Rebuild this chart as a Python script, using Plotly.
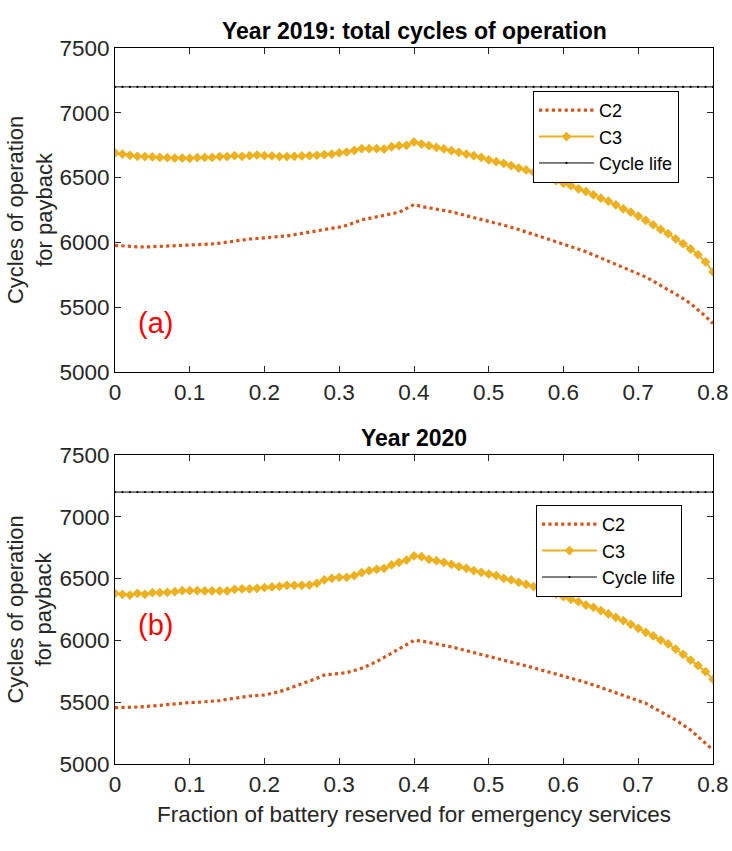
import plotly.graph_objects as go

frac = [round(i * 0.01, 2) for i in range(81)]

c3_2019 = [6690, 6682, 6672, 6664, 6662, 6659, 6656, 6654, 6651, 6651,
           6649, 6654, 6656, 6656, 6662, 6662, 6669, 6664, 6669, 6674,
           6669, 6667, 6662, 6662, 6664, 6667, 6669, 6672, 6677, 6682,
           6690, 6697, 6710, 6723, 6723, 6723, 6720, 6738, 6746, 6749,
           6774, 6759, 6746, 6733, 6721, 6708, 6695, 6682, 6669, 6656,
           6636, 6623, 6610, 6592, 6574, 6559, 6541, 6521, 6497, 6477,
           6456, 6438, 6413, 6392, 6367, 6341, 6318, 6290, 6259, 6233,
           6203, 6169, 6136, 6100, 6067, 6028, 5990, 5949, 5905, 5849,
           5772]

c2_2019 = [5977, 5972, 5968, 5966, 5964, 5966, 5968, 5970, 5972, 5974,
           5976, 5978, 5982, 5988, 5994, 6003, 6012, 6021, 6026, 6030,
           6034, 6037, 6041, 6050, 6060, 6069, 6079, 6088, 6098, 6108,
           6118, 6131, 6152, 6174, 6185, 6196, 6208, 6220, 6233, 6262,
           6292, 6277, 6268, 6260, 6251, 6236, 6221, 6205, 6190, 6176,
           6162, 6147, 6133, 6118, 6099, 6080, 6060, 6041, 6023, 6005,
           5987, 5969, 5951, 5928, 5904, 5880, 5856, 5832, 5807, 5783,
           5758, 5733, 5701, 5669, 5637, 5605, 5567, 5528, 5480, 5430,
           5374]

c3_2020 = [6381, 6373, 6367, 6381, 6373, 6386, 6386, 6389, 6394, 6402,
           6402, 6402, 6400, 6400, 6400, 6400, 6413, 6416, 6416, 6421,
           6427, 6432, 6437, 6446, 6446, 6446, 6448, 6462, 6489, 6502,
           6510, 6510, 6524, 6548, 6564, 6575, 6583, 6610, 6632, 6650,
           6683, 6677, 6656, 6645, 6632, 6615, 6597, 6583, 6564, 6551,
           6537, 6524, 6502, 6489, 6470, 6454, 6435, 6416, 6394, 6375,
           6354, 6332, 6313, 6286, 6268, 6241, 6214, 6187, 6160, 6130,
           6098, 6065, 6036, 6003, 5971, 5930, 5887, 5841, 5796, 5747,
           5685]

c2_2020 = [5456, 5456, 5458, 5461, 5464, 5470, 5477, 5484, 5491, 5494,
           5497, 5499, 5502, 5504, 5513, 5523, 5534, 5545, 5550, 5554,
           5558, 5572, 5585, 5605, 5626, 5646, 5666, 5693, 5720, 5726,
           5733, 5739, 5757, 5774, 5801, 5828, 5862, 5895, 5930, 5965,
           6000, 5995, 5984, 5974, 5963, 5948, 5932, 5917, 5901, 5886,
           5872, 5857, 5843, 5828, 5811, 5795, 5778, 5761, 5745, 5729,
           5713, 5696, 5680, 5660, 5640, 5619, 5599, 5577, 5556, 5534,
           5513, 5491, 5457, 5424, 5390, 5356, 5316, 5275, 5221, 5167,
           5113]

cycle_life = [7200] * 81

series_names = ["C2", "C3", "Cycle life"]
titles = ["<b>Year 2019: total cycles of operation</b>", "<b>Year 2020</b>"]
panel_labels = ["(a)", "(b)"]
x_ticks = [0, 0.1, 0.2, 0.3, 0.4, 0.5, 0.6, 0.7, 0.8]
y_ticks = [5000, 5500, 6000, 6500, 7000, 7500]

C2_COLOR = "#D95319"
C3_COLOR = "#EDB120"
FONT = "Liberation Sans, Arial, sans-serif"
TXT = "#262626"

fig = go.Figure()

panels = [(c2_2019, c3_2019, "x", "y", "legend"),
          (c2_2020, c3_2020, "x2", "y2", "legend2")]
for c2, c3, xa, ya, lg in panels:
    fig.add_trace(go.Scatter(x=frac, y=c2, mode="lines", name=series_names[0],
                             line=dict(color=C2_COLOR, width=3.2, dash="dot"),
                             xaxis=xa, yaxis=ya, legend=lg))
    fig.add_trace(go.Scatter(x=frac, y=c3, mode="lines+markers", name=series_names[1],
                             line=dict(color=C3_COLOR, width=2),
                             marker=dict(color=C3_COLOR, size=7.5, symbol="diamond"),
                             xaxis=xa, yaxis=ya, legend=lg))
    fig.add_trace(go.Scatter(x=frac, y=cycle_life, mode="lines+markers", name=series_names[2],
                             line=dict(color="black", width=1),
                             marker=dict(color="black", size=2.2),
                             xaxis=xa, yaxis=ya, legend=lg))

axis_common = dict(showgrid=False, zeroline=False, showline=True, linecolor="black",
                   linewidth=1, mirror="allticks", ticks="inside", ticklen=6,
                   automargin=False,
                   tickcolor="#262626", tickfont=dict(family=FONT, size=22.5, color=TXT))

top_dom = [0.5475, 1.0]
bot_dom = [0.0, 0.4316]

legend_common = dict(xanchor="left", yanchor="top", bgcolor="white", bordercolor="black",
                     borderwidth=1, font=dict(family=FONT, size=18, color="black"),
                     itemwidth=55, tracegroupgap=0)

fig.update_layout(
    width=732, height=851,
    margin=dict(l=115, r=19, t=48, b=87),
    paper_bgcolor="white", plot_bgcolor="white",
    font=dict(family=FONT, color=TXT),
    xaxis=dict(axis_common, domain=[0, 1], range=[0, 0.8], tickvals=x_ticks,
               ticktext=[f"{v:g}" for v in x_ticks], anchor="y"),
    yaxis=dict(axis_common, domain=top_dom, range=[5000, 7500], tickvals=y_ticks, anchor="x"),
    xaxis2=dict(axis_common, domain=[0, 1], range=[0, 0.8], tickvals=x_ticks,
                ticktext=[f"{v:g}" for v in x_ticks], anchor="y2",
                title=dict(text="Fraction of battery reserved for emergency services",
                           font=dict(family=FONT, size=22.5, color=TXT), standoff=10)),
    yaxis2=dict(axis_common, domain=bot_dom, range=[5000, 7500], tickvals=y_ticks, anchor="x2"),
    legend=dict(legend_common, x=0.699, y=0.94),
    legend2=dict(legend_common, x=0.704, y=0.3617),
    showlegend=True,
)

annotations = []
for title, dom in zip(titles, [top_dom, bot_dom]):
    annotations.append(dict(text=title, x=0.5, y=dom[1], xref="paper", yref="paper",
                            xanchor="center", yanchor="bottom", yshift=2, showarrow=False,
                            font=dict(family=FONT, size=23, color="black")))
for label, yy in zip(panel_labels, [0.6165, 0.1940]):
    annotations.append(dict(text=label, x=0.068, y=yy, xref="paper", yref="paper",
                            xanchor="center", yanchor="middle", showarrow=False,
                            font=dict(family=FONT, size=29, color="red")))
for dom in [top_dom, bot_dom]:
    annotations.append(dict(text="Cycles of operation<br>for payback", x=-0.142,
                            y=(dom[0] + dom[1]) / 2, xref="paper", yref="paper",
                            xanchor="center", yanchor="middle", textangle=-90, showarrow=False,
                            font=dict(family=FONT, size=22, color=TXT)))
fig.update_layout(annotations=annotations)

fig.write_html("out.html", config={"displayModeBar": False},
               post_script="document.body.style.margin='0px';document.body.style.overflow='hidden';")
